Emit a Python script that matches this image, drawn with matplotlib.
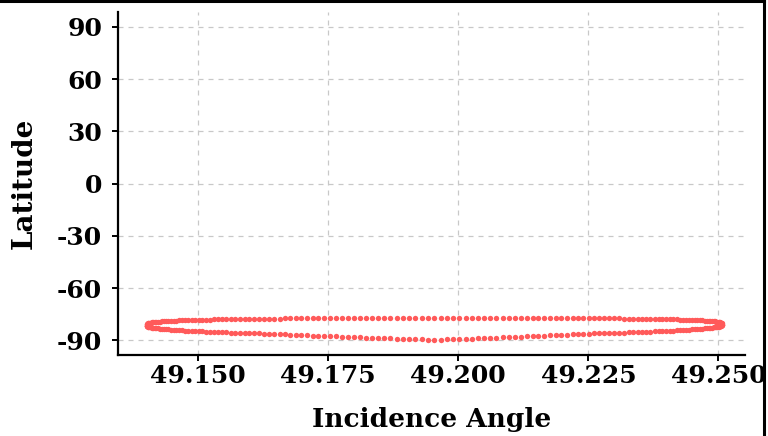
import matplotlib
matplotlib.use("Agg")
import matplotlib.pyplot as plt
from matplotlib.lines import Line2D

# Incidence angle samples along the orbit (left tip -> right tip)
incidence_angle = [
    49.14009, 49.14010, 49.14014, 49.14021, 49.14030, 49.14042, 49.14056, 49.14073, 49.14093, 49.14115,
    49.14140, 49.14167, 49.14197, 49.14230, 49.14265, 49.14302, 49.14342, 49.14385, 49.14430, 49.14477,
    49.14527, 49.14579, 49.14634, 49.14690, 49.14750, 49.14811, 49.14875, 49.14941, 49.15009, 49.15079,
    49.15151, 49.15226, 49.15302, 49.15381, 49.15461, 49.15544, 49.15628, 49.15714, 49.15802, 49.15892,
    49.15984, 49.16077, 49.16172, 49.16268, 49.16366, 49.16466, 49.16567, 49.16669, 49.16773, 49.16878,
    49.16984, 49.17092, 49.17201, 49.17311, 49.17422, 49.17533, 49.17646, 49.17760, 49.17875, 49.17990,
    49.18106, 49.18223, 49.18341, 49.18459, 49.18577, 49.18696, 49.18815, 49.18935, 49.19055, 49.19175,
    49.19296, 49.19416, 49.19537,
    49.19658, 49.19778, 49.19899, 49.20019, 49.20139, 49.20259, 49.20378,
    49.20497, 49.20615, 49.20733, 49.20851, 49.20968, 49.21084, 49.21199, 49.21314, 49.21428, 49.21541,
    49.21652, 49.21763, 49.21873, 49.21982, 49.22090, 49.22196, 49.22301, 49.22405, 49.22507, 49.22608,
    49.22708, 49.22806, 49.22902, 49.22997, 49.23090, 49.23182, 49.23272, 49.23360, 49.23446, 49.23530,
    49.23613, 49.23693, 49.23772, 49.23848, 49.23923, 49.23995, 49.24065, 49.24133, 49.24199, 49.24263,
    49.24324, 49.24384, 49.24440, 49.24495, 49.24547, 49.24597, 49.24644, 49.24689, 49.24732, 49.24772,
    49.24809, 49.24844, 49.24877, 49.24907, 49.24934, 49.24959, 49.24981, 49.25001, 49.25018, 49.25032,
    49.25044, 49.25053, 49.25060, 49.25064, 49.25065,
]

# Latitude on the upper branch (same samples as incidence_angle)
lat_upper = [
    -81.56, -80.92, -80.65, -80.44, -80.27, -80.12, -79.98, -79.86, -79.74, -79.63,
    -79.52, -79.43, -79.33, -79.24, -79.16, -79.07, -79.00, -78.92, -78.85, -78.77,
    -78.70, -78.64, -78.57, -78.51, -78.45, -78.39, -78.33, -78.27, -78.22, -78.16,
    -78.11, -78.06, -78.01, -77.97, -77.92, -77.88, -77.83, -77.79, -77.75, -77.71,
    -77.67, -77.63, -77.59, -77.56, -77.52, -77.49, -77.46, -77.43, -77.40, -77.37,
    -77.34, -77.32, -77.29, -77.27, -77.24, -77.22, -77.20, -77.18, -77.16, -77.14,
    -77.12, -77.11, -77.09, -77.08, -77.06, -77.05, -77.04, -77.03, -77.02, -77.01,
    -77.01, -77.00, -77.00,
    -76.99, -76.99, -76.98, -76.99, -76.99, -76.99, -76.99,
    -76.99, -77.00, -77.00, -77.02, -77.02, -77.03, -77.04, -77.05, -77.06, -77.08,
    -77.09, -77.11, -77.12, -77.14, -77.16, -77.18, -77.20, -77.22, -77.25, -77.27,
    -77.29, -77.32, -77.35, -77.38, -77.41, -77.45, -77.48, -77.51, -77.55, -77.59,
    -77.63, -77.67, -77.70, -77.75, -77.79, -77.84, -77.89, -77.94, -77.99, -78.05,
    -78.10, -78.16, -78.21, -78.28, -78.34, -78.40, -78.48, -78.55, -78.62, -78.69,
    -78.78, -78.86, -78.94, -79.04, -79.13, -79.24, -79.35, -79.47, -79.58, -79.72,
    -79.87, -80.04, -80.25, -80.52, -81.16,
]

# Latitude on the lower branch (interior samples, incidence_angle[1:-1])
lat_lower = [
    -81.68, -81.81, -81.93, -82.06, -82.18, -82.30, -82.43, -82.55, -82.67, -82.79,
    -82.91, -83.03, -83.15, -83.27, -83.38, -83.50, -83.61, -83.73, -83.84, -83.95,
    -84.06, -84.17, -84.28, -84.38, -84.49, -84.59, -84.69, -84.79, -84.89, -84.99,
    -85.08, -85.18, -85.27, -85.36, -85.45, -85.53, -85.62, -85.70, -85.78, -85.86,
    -85.93, -86.00, -86.08, -86.14, -86.21, -86.33, -86.48, -86.63, -86.78, -86.92,
    -87.07, -87.21, -87.35, -87.49, -87.63, -87.77, -87.90, -88.03, -88.16, -88.29,
    -88.42, -88.54, -88.67, -88.79, -88.90, -89.02, -89.13, -89.24, -89.35, -89.46,
    -89.56, -89.66,
    -89.55, -89.44, -89.32, -89.21, -89.09, -88.97, -88.84,
    -88.72, -88.59, -88.45, -88.33, -88.19, -88.05, -87.91, -87.77, -87.63, -87.49,
    -87.34, -87.19, -87.04, -86.89, -86.74, -86.59, -86.43, -86.27, -86.12, -85.99,
    -85.91, -85.84, -85.76, -85.68, -85.60, -85.52, -85.43, -85.34, -85.25, -85.16,
    -85.07, -84.97, -84.87, -84.77, -84.67, -84.57, -84.46, -84.36, -84.25, -84.15,
    -84.03, -83.93, -83.82, -83.70, -83.59, -83.47, -83.36, -83.24, -83.12, -83.00,
    -82.89, -82.77, -82.64, -82.52, -82.40, -82.28, -82.16, -82.04, -81.90, -81.78,
    -81.66, -81.53, -81.41, -81.28,
]

x_ticks = [49.150, 49.175, 49.200, 49.225, 49.250]
x_tick_labels = ["49.150", "49.175", "49.200", "49.225", "49.250"]
y_ticks = [90, 60, 30, 0, -30, -60, -90]
y_tick_labels = ["90", "60", "30", "0", "-30", "-60", "-90"]

plt.rcParams["font.family"] = ["DejaVu Serif"]
plt.rcParams["font.weight"] = "bold"

fig = plt.figure(figsize=(7.68, 4.36), dpi=100)
ax = fig.add_axes([118 / 768, 1 - 355 / 436, (745 - 118) / 768, (355 - 12) / 436])

dot_color = "#ff5a5a"
ax.scatter(incidence_angle, lat_upper, s=15, color=dot_color, linewidths=0, zorder=3)
ax.scatter(incidence_angle[1:-1], lat_lower, s=15, color=dot_color, linewidths=0, zorder=3)

ax.set_xlim(49.1346, 49.2551)
ax.set_ylim(-98.4, 98.6)
ax.set_xticks(x_ticks)
ax.set_xticklabels(x_tick_labels)
ax.set_yticks(y_ticks)
ax.set_yticklabels(y_tick_labels)

ax.grid(True, linestyle=(0, (4, 4)), color="#c8c8c8", linewidth=0.9, zorder=0)
ax.set_axisbelow(True)

for side in ["top", "right"]:
    ax.spines[side].set_visible(False)
for side in ["left", "bottom"]:
    ax.spines[side].set_linewidth(1.6)
    ax.spines[side].set_color("black")

ax.tick_params(axis="both", direction="out", length=4.5, width=1.4, colors="black", labelsize=18)
ax.tick_params(axis="y", pad=7)
ax.tick_params(axis="x", pad=2)
for lbl in ax.get_xticklabels() + ax.get_yticklabels():
    lbl.set_fontweight("bold")

ax.set_xlabel("Incidence Angle", fontsize=19, fontweight="bold", labelpad=14)
ax.set_ylabel("Latitude", fontsize=20, fontweight="bold", labelpad=14)

# Frame lines of the original figure (top and right edges)
fig.add_artist(Line2D([0, 764 / 768], [1 - 1 / 436, 1 - 1 / 436], transform=fig.transFigure,
                      color="black", linewidth=2.2))
fig.add_artist(Line2D([764 / 768, 764 / 768], [0, 1], transform=fig.transFigure,
                      color="black", linewidth=2.2))

fig.savefig("out.png", dpi=100)
